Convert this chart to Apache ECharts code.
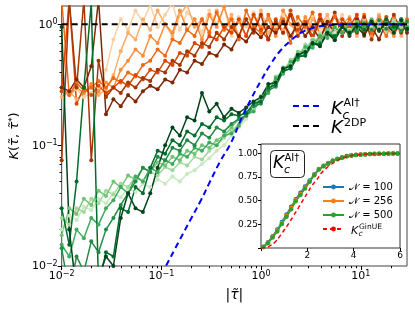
<!DOCTYPE html>
<html><head><meta charset="utf-8">
<script src="https://cdn.jsdelivr.net/npm/echarts@6/dist/echarts.min.js"></script>
<style>html,body{margin:0;padding:0;background:#fff}#c{width:415px;height:311px}</style>
</head><body><div id="c"></div>
<script>
// ---- data ----
const tau = [0.01,0.0119,0.0141,0.0167,0.0198,0.0234,0.0278,0.033,0.0391,0.0463,0.055,0.0652,0.0773,0.0916,0.109,0.129,0.153,0.181,0.215,0.255,0.302,0.358,0.425,0.504,0.597,0.708,0.84,0.995,1.18,1.4,1.66,1.97,2.33,2.77,3.28,3.89,4.61,5.47,6.49,7.69,9.12,10.8,12.8,15.2,18.0,21.4,25.4,29.0];

const orange1 = [0.28,0.26,0.29,0.25,0.27,0.30,0.42,0.75, 1.10,0.90,1.30,1.05,1.45,0.95,1.20,1.50, 0.90,1.25,1.10,0.85,1.30,1.00,1.40,0.80, 1.15,0.95,1.25,0.85,1.10,0.95,1.20,0.80, 1.05,0.90,1.15,0.85,1.10,0.95,1.20,0.90, 1.05,0.80,1.10,0.95,1.15,0.85,1.05,0.95];
const orange2 = [0.25,0.28,0.24,0.27,0.30,0.26,0.29,0.38, 0.60,0.85,0.75,1.10,0.90,1.30,1.00,0.80, 1.20,1.45,0.95,1.10,0.85,1.30,0.90,1.20, 0.80,1.10,0.90,1.30,0.85,1.05,0.90,1.25, 0.95,0.80,1.10,0.95,1.20,0.85,1.00,1.15, 0.80,1.10,0.90,1.20,0.90,1.10,0.80,1.05];
const orange3 = [0.30,0.26,0.30,0.27,0.32,0.28,0.33,0.30, 0.42,0.50,0.62,0.55,0.80,0.70,1.00,0.85, 1.30,0.90,1.10,0.75,1.20,0.95,1.40,0.90, 1.05,0.80,1.20,0.95,1.10,0.80,1.30,1.00, 0.85,1.15,0.90,1.10,0.80,1.20,0.95,0.85, 1.10,1.00,0.80,1.15,0.95,0.80,1.10,0.90];
const orange4 = [1.60,0.26,0.33,0.28,0.30,0.34,0.30,0.36, 0.33,0.40,0.37,0.46,0.50,0.62,0.55,0.75, 0.70,0.90,0.80,1.10,0.85,1.25,0.90,1.10, 0.75,1.30,0.95,0.85,1.20,0.90,1.10,0.70, 1.15,0.95,1.25,0.80,1.00,1.15,0.85,1.10, 0.90,1.20,0.85,1.00,0.80,1.15,0.95,1.10];
const orange5 = [0.28,1.60,0.22,0.30,0.26,0.31,0.27,0.30, 0.34,0.31,0.38,0.35,0.42,0.40,0.50,0.46, 0.58,0.55,0.70,0.65,0.80,0.75,0.95,0.85, 1.10,0.80,1.20,0.90,0.75,1.10,0.85,1.30, 0.90,1.05,0.80,1.20,0.90,0.75,1.10,0.95, 1.20,0.80,1.05,0.90,1.15,0.85,1.00,0.90];
const orange6 = [0.075,1.60,0.30,1.60,0.075,0.50,0.25,0.30, 0.27,0.33,0.30,0.36,0.34,0.42,0.40,0.50, 0.46,0.60,0.55,0.70,0.65,0.85,0.75,0.95, 0.80,1.10,0.85,1.20,0.75,1.05,0.85,1.20, 0.80,1.00,0.75,1.10,0.90,1.25,0.80,1.00, 0.85,1.15,0.75,1.05,0.90,1.20,0.85,1.00];
const orange7 = [0.30,0.28,0.35,0.30,0.45,1.60,0.18,0.24, 0.21,0.26,0.23,0.28,0.31,0.29,0.35,0.33, 0.42,0.40,0.50,0.47,0.58,0.55,0.68,0.62, 0.80,0.72,0.90,0.78,0.95,0.85,1.05,0.80, 1.00,0.80,0.95,0.75,1.05,0.85,1.00,0.80, 1.10,0.85,0.95,0.75,1.05,0.90,1.10,0.85];

const green1 = [0.020,0.026,0.024,0.031,0.029,0.036,0.033,0.040, 0.037,0.044,0.041,0.048,0.045,0.052,0.048,0.055, 0.050,0.058,0.062,0.070,0.078,0.090,0.100,0.120, 0.140,0.165,0.205,0.230,0.300,0.330,0.440,0.470, 0.600,0.620,0.760,0.740,0.900,0.850,0.980,0.900, 0.920,1.020,0.950,1.050,0.960,1.030,0.970,1.010];
const green2 = [0.025,0.022,0.030,0.028,0.036,0.033,0.042,0.039, 0.048,0.045,0.055,0.051,0.060,0.056,0.066,0.062, 0.072,0.068,0.080,0.076,0.090,0.100,0.115,0.130, 0.150,0.185,0.195,0.255,0.275,0.370,0.400,0.510, 0.530,0.680,0.660,0.830,0.780,0.950,0.850,1.000, 0.900,1.050,0.920,1.000,0.880,1.080,0.950,1.020];
const green3 = [0.018,0.030,0.027,0.036,0.032,0.042,0.038,0.050, 0.045,0.056,0.052,0.065,0.060,0.072,0.068,0.080, 0.075,0.090,0.085,0.100,0.095,0.110,0.120,0.140, 0.165,0.175,0.220,0.240,0.315,0.335,0.440,0.455, 0.590,0.600,0.740,0.730,0.900,0.800,0.980,0.880, 1.050,0.900,1.100,0.920,1.000,0.850,1.050,0.950];
const green4 = [0.015,0.012,0.020,0.017,0.025,0.022,0.030,0.035, 0.045,0.040,0.055,0.050,0.065,0.060,0.075,0.070, 0.085,0.080,0.095,0.090,0.105,0.100,0.120,0.125, 0.145,0.180,0.190,0.250,0.270,0.360,0.390,0.490, 0.510,0.650,0.640,0.800,0.770,0.940,0.850,1.000, 0.900,0.950,1.080,0.900,1.050,0.920,1.100,0.950];
const green5 = [0.014,0.006,0.012,0.009,0.016,0.013,0.020,0.025, 0.032,0.040,0.050,0.065,0.060,0.080,0.075,0.095, 0.090,0.110,0.100,0.125,0.115,0.140,0.130,0.150, 0.165,0.175,0.210,0.220,0.285,0.305,0.410,0.430, 0.540,0.560,0.690,0.700,0.840,0.760,0.980,0.850, 0.880,1.020,0.900,1.080,0.920,1.000,0.880,1.050];
const green6 = [0.030,0.015,0.050,0.300,1.500,0.007,0.013,0.012, 0.030,0.028,0.045,0.040,0.065,0.090,0.085,0.110, 0.100,0.130,0.120,0.150,0.140,0.170,0.160,0.180, 0.175,0.185,0.220,0.230,0.300,0.315,0.410,0.430, 0.540,0.550,0.690,0.680,0.830,0.800,0.950,0.820, 1.000,0.900,1.050,0.880,1.100,0.950,1.000,0.900];
const green7 = [0.950,0.020,0.006,0.005,0.006,0.008,0.012,0.010, 0.025,0.040,0.030,0.028,0.040,0.065,0.100,0.140, 0.120,0.170,0.160,0.270,0.190,0.220,0.170,0.200, 0.185,0.205,0.230,0.250,0.320,0.330,0.430,0.450, 0.560,0.590,0.700,0.660,0.850,0.740,0.950,0.850, 0.950,0.820,1.050,0.900,1.000,0.850,1.080,0.920];

const kcTau = [0.1,0.111,0.15,0.2,0.249,0.3,0.394,0.5,0.624,0.8,1.0,1.25,1.57,2.0,2.29,2.7,3.1,3.6,4.6,6,8,12,20,29];
const kcVal = [0.0085,0.01,0.016,0.025,0.035,0.048,0.075,0.105,0.161,0.245,0.344,0.47,0.61,0.74,0.81,0.88,0.92,0.955,0.98,0.995,1,1,1,1];
const k2dpTau = [0.01, 29];
const k2dpVal = [1, 1];

const insetTau = [0.1,0.3,0.5,0.7,0.9,1.1,1.3,1.5,1.7,1.9,2.1,2.3,2.5,2.7,2.9,3.1,3.3,3.5,3.7,3.9,4.1,4.3,4.5,4.7,4.9,5.1,5.3,5.5,5.7,5.9];
const kcN100 = [0.012,0.06,0.125,0.195,0.275,0.355,0.435,0.515,0.585,0.65,0.715,0.78,0.835,0.87,0.9,0.925,0.945,0.96,0.972,0.98,0.985,0.989,0.992,0.994,0.996,0.997,0.998,0.999,1.0,1.0];
const kcN256 = [0.011,0.055,0.118,0.185,0.265,0.342,0.422,0.505,0.572,0.64,0.708,0.775,0.832,0.868,0.895,0.922,0.942,0.958,0.971,0.978,0.984,0.988,0.991,0.994,0.995,0.997,0.998,0.999,0.999,1.0];
const kcN500 = [0.01,0.05,0.11,0.175,0.255,0.33,0.41,0.495,0.56,0.63,0.70,0.77,0.83,0.865,0.89,0.92,0.94,0.955,0.97,0.977,0.983,0.987,0.99,0.993,0.995,0.996,0.997,0.998,0.999,1.0];
const ginTau = [0,0.2,0.4,0.6,0.8,1.0,1.2,1.4,1.6,1.8,2.0,2.2,2.4,2.6,2.8,3.0,3.2,3.4,3.6,3.8,4.0,4.4,5.0,6.0];
const ginVal = [0,0.004,0.025,0.06,0.12,0.19,0.26,0.34,0.42,0.5,0.58,0.66,0.72,0.79,0.84,0.88,0.91,0.94,0.955,0.97,0.98,0.99,0.997,1.0];

const xMajor = [0.01,0.1,1,10];
const xMinor = [0.02,0.03,0.04,0.05,0.06,0.07,0.08,0.09,0.2,0.3,0.4,0.5,0.6,0.7,0.8,0.9,2,3,4,5,6,7,8,9,20];
const yMajor = [0.01,0.1,1];
const yMinor = [0.02,0.03,0.04,0.05,0.06,0.07,0.08,0.09,0.2,0.3,0.4,0.5,0.6,0.7,0.8,0.9];

// ---- chart ----
const F = 'DejaVu Sans';
const orangeColors = ['#fdd0a2','#fdae6b','#fd8d3c','#f16913','#d94801','#a63603','#7f2704'];
const greenColors = ['#c7e9c0','#a1d99b','#74c476','#41ab5d','#238b45','#006d2c','#00441b'];
const oranges = [orange1,orange2,orange3,orange4,orange5,orange6,orange7];
const greens = [green1,green2,green3,green4,green5,green6,green7];

const series = [];
function addFamily(list, colors, pre){
  list.forEach((arr,k)=>{
    series.push({type:'line', name:pre+k, xAxisIndex:0, yAxisIndex:0,
      data: tau.map((t,i)=>[t,arr[i]]), symbol:'circle', symbolSize:4,
      lineStyle:{width:1.5,color:colors[k]}, itemStyle:{color:colors[k]},
      z:2, silent:true, clip:true});
  });
}
addFamily(oranges, orangeColors, 'o');
addFamily(greens, greenColors, 'g');
series.push({type:'line', name:'kcAI', xAxisIndex:0, yAxisIndex:0, data:kcTau.map((t,i)=>[t,kcVal[i]]),
  smooth:true, symbol:'none', lineStyle:{color:'#0000ff', width:2, type:[6,4]}, itemStyle:{color:'#0000ff'}, z:5, clip:true});
series.push({type:'line', name:'k2dp', xAxisIndex:0, yAxisIndex:0, data:k2dpTau.map((t,i)=>[t,k2dpVal[i]]),
  symbol:'none', lineStyle:{color:'#000', width:2, type:[6,4]}, itemStyle:{color:'#000'}, z:5, clip:true});
const insetDefs = [['n100',kcN100,'#1f77b4'],['n256',kcN256,'#ff7f0e'],['n500',kcN500,'#2ca02c']];
insetDefs.forEach(d=>{
  series.push({type:'line', name:d[0], xAxisIndex:2, yAxisIndex:2, data:insetTau.map((t,i)=>[t,d[1][i]]),
    symbol:'circle', symbolSize:4.5, lineStyle:{color:d[2], width:1.6}, itemStyle:{color:d[2]}, z:12});
});
series.push({type:'line', name:'ginue', xAxisIndex:2, yAxisIndex:2, data:ginTau.map((t,i)=>[t,ginVal[i]]),
  smooth:true, symbol:'none', lineStyle:{color:'#ff0000', width:1.5, type:[4,3]}, itemStyle:{color:'#ff0000'}, z:13});

function powLabel(v){
  const e = Math.round(Math.log10(v));
  return '{b|10}{s|' + (e<0 ? '\u2212'+(-e) : e) + '}';
}
const powRich = {
  b:{fontSize:11, fontFamily:F, color:'#000', lineHeight:12, padding:[5,0,0,0], verticalAlign:'bottom'},
  s:{fontSize:8, fontFamily:F, color:'#000', lineHeight:8, verticalAlign:'top'}
};
const it = {fontFamily:F, fontStyle:'italic'};
const insetLegRich = {
  n:{fontFamily:F, fontSize:10, color:'#000'},
  t:{fontFamily:F, fontSize:10, color:'#000'}
};
function txt(x, y, s, font, z){
  return {type:'text', z:z||40, x:x, y:y, silent:true,
    style:{text:s, font:font, fill:'#000', verticalAlign:'middle', align:'left'}};
}
const FI = '"DejaVu Sans"';

const option = {
  animation:false,
  backgroundColor:'#fff',
  grid:[
    {left:60, right:8, top:6, bottom:45, show:true, borderColor:'#444', borderWidth:1, backgroundColor:'transparent'},
    {left:261, right:15, top:144, bottom:63, show:true, borderColor:'#333', borderWidth:1, backgroundColor:'#fff', z:10}
  ],
  xAxis:[
    {type:'log', logBase:10, gridIndex:0, min:0.01, max:29, position:'bottom',
     axisLine:{show:false}, splitLine:{show:false},
     axisTick:{customValues:xMajor, length:4, lineStyle:{color:'#000'}},
     axisLabel:{customValues:xMajor, formatter:powLabel, rich:powRich, margin:4},
     name:'|{i|\u03C4\u0303}|', nameLocation:'middle', nameGap:22,
     nameTextStyle:{fontFamily:F, fontSize:14, color:'#000', rich:{i:Object.assign({fontSize:14,color:'#000'}, it)}}},
    {type:'log', logBase:10, gridIndex:0, min:0.01, max:29, position:'bottom',
     axisLine:{show:false}, splitLine:{show:false}, axisLabel:{show:false},
     axisTick:{customValues:xMinor, length:2.2, lineStyle:{color:'#000'}}},
    {type:'value', gridIndex:1, min:0, max:6, interval:2, z:11,
     axisLine:{show:false}, splitLine:{show:false},
     axisTick:{length:3, lineStyle:{color:'#000'}},
     axisLabel:{fontFamily:F, fontSize:9, color:'#000', margin:3, formatter:v=>v===0?'':String(v)}}
  ],
  yAxis:[
    {type:'log', logBase:10, gridIndex:0, min:0.01, max:1.418, position:'left',
     axisLine:{show:false}, splitLine:{show:false},
     axisTick:{customValues:yMajor, length:4, lineStyle:{color:'#000'}},
     axisLabel:{customValues:yMajor, formatter:powLabel, rich:powRich, margin:4},
     name:'{i|K}({i|\u03C4\u0303}, {i|\u03C4\u0303}{s|*})', nameLocation:'middle', nameGap:36, nameRotate:90,
     nameTextStyle:{fontFamily:F, fontSize:13, color:'#000',
       rich:{i:Object.assign({fontSize:13,color:'#000'}, it), s:{fontFamily:F, fontSize:9, verticalAlign:'top', lineHeight:8, color:'#000'}}}},
    {type:'log', logBase:10, gridIndex:0, min:0.01, max:1.418, position:'left',
     axisLine:{show:false}, splitLine:{show:false}, axisLabel:{show:false},
     axisTick:{customValues:yMinor, length:2.2, lineStyle:{color:'#000'}}},
    {type:'value', gridIndex:1, min:0, max:1.1, interval:0.25, z:11, position:'left',
     axisLine:{show:false}, splitLine:{show:false},
     axisTick:{length:3, lineStyle:{color:'#000'}},
     axisLabel:{fontFamily:F, fontSize:9, color:'#000', margin:3, formatter:v=>(v===0||v>1.05)?'':v.toFixed(2)}}
  ],
  legend:[
    {data:['kcAI','k2dp'], orient:'vertical', left:287, top:95, itemWidth:28, itemHeight:12, itemGap:8,
     itemStyle:{opacity:0}, textStyle:{fontSize:10, lineHeight:12}, selectedMode:false,
     formatter:()=>' '},
    {data:['n100','n256','n500','ginue'], orient:'vertical', left:317, top:176, itemWidth:21, itemHeight:6, itemGap:2, z:20,
     textStyle:{rich:insetLegRich, lineHeight:12}, selectedMode:false,
     formatter:n=> n==='ginue' ? ' ' : '{n|\uD835\uDCA9}{t| = ' + n.slice(1) + '}'}
  ],
  graphic:[
    // main legend labels
    txt(331, 109, 'K', 'italic 18px '+FI),
    txt(343.5, 103, 'AI\u2020', '11px '+FI),
    txt(342.5, 115.5, 'c', 'italic 12px '+FI),
    txt(331, 128.5, 'K', 'italic 18px '+FI),
    txt(344, 123, '2DP', '11px '+FI),
    // inset legend GinUE label
    txt(351, 231, 'K', 'italic 11px '+FI),
    txt(359, 227, 'GinUE', '7.5px '+FI),
    txt(358.5, 234, 'c', 'italic 7.5px '+FI),
    // inset title box
    {type:'rect', z:30, shape:{x:270.5,y:150.5,width:34,height:27,r:4}, style:{fill:'#fff', stroke:'#222', lineWidth:1}},
    txt(273, 164, 'K', 'italic 17px '+FI, 31),
    txt(284.5, 158, 'AI\u2020', '10px '+FI, 31),
    txt(284, 170, 'c', 'italic 11px '+FI, 31)
  ],
  series:series
};
const chart = echarts.init(document.getElementById('c'));
chart.setOption(option);
</script>
</body></html>
